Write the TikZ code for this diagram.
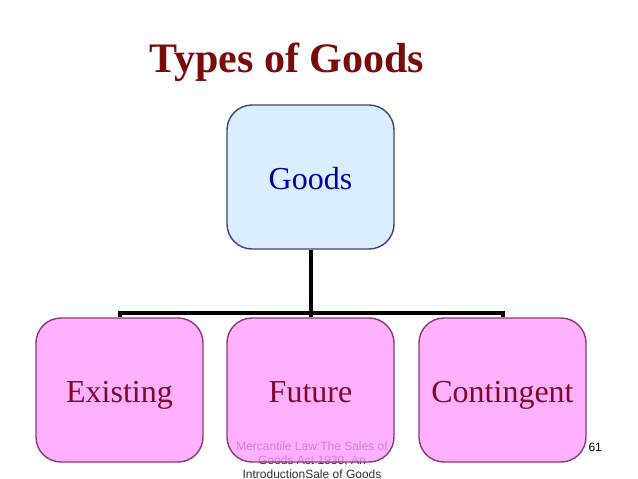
\documentclass[tikz,border=0pt]{standalone}
\usepackage{fontspec}
\setmainfont{Liberation Serif}
\newfontfamily\footfont{Liberation Sans}
\definecolor{titlered}{HTML}{7A0B0B}
\definecolor{labelred}{HTML}{7E0A28}
\definecolor{goodsblue}{HTML}{0000A0}
\definecolor{pinkfill}{HTML}{FF9AFF}
\definecolor{pinkborder}{HTML}{8A3A78}
\definecolor{bluefill}{HTML}{D9EEFF}
\definecolor{blueborder}{HTML}{40408A}
\definecolor{foottext}{HTML}{303030}
\begin{document}
\begin{tikzpicture}[x=1pt,y=-1pt,
  basebox/.style={rounded corners=25pt, line width=1.4pt, minimum width=167pt, minimum height=144pt, inner sep=0pt, text height=26pt, text depth=2pt},
  childbox/.style={basebox, draw=pinkborder, fill=pinkfill, fill opacity=0.78, text opacity=1, text=labelred, font=\fontsize{32}{36}\selectfont},
  rootbox/.style={basebox, draw=blueborder, fill=bluefill, text=goodsblue, font=\fontsize{32}{36}\selectfont},
  bus/.style={line width=4pt, black, line join=miter}]
\useasboundingbox (0,0) rectangle (638,479);
\fill[white] (0,0) rectangle (638,479);
% footer text (drawn under the boxes)
\node[font=\footfont\fontsize{12}{14}\selectfont, text=foottext, align=center, anchor=center] (foot) at (312,460)
  {Mercantile Law:The Sales of\\Goods Act 1930, An\\IntroductionSale of Goods};
\node[font=\footfont\fontsize{12}{14}\selectfont, text=black, anchor=west] (page) at (585,447) {61};
% title
\node[font=\bfseries\fontsize{42}{46}\selectfont, text=titlered] (title) at (287,62) {Types of Goods};
% boxes
\node[rootbox] (goods) at (310.5,177) {Goods};
\node[childbox] (existing) at (119.5,390) {Existing};
\node[childbox] (future) at (310.5,390) {Future};
\node[childbox] (contingent) at (502.5,390) {Contingent};
% connectors
\coordinate (j) at (310.5,313);
\draw[bus] (goods.south) -- (j);
\draw[bus] (existing.north) |- (j) -| (contingent.north);
\draw[bus] (j) -- (future.north);
\end{tikzpicture}
\end{document}
